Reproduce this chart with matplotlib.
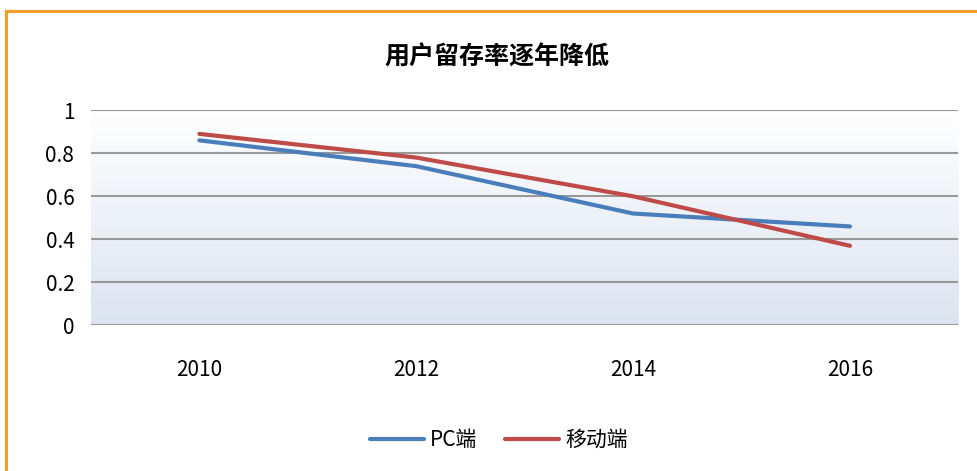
import matplotlib.pyplot as plt
import numpy as np
from matplotlib.lines import Line2D

plt.rcParams['font.family'] = ['Noto Sans CJK SC', 'DejaVu Sans']

years = ['2010', '2012', '2014', '2016']
pc = [0.86, 0.74, 0.52, 0.46]
mobile = [0.89, 0.78, 0.60, 0.37]
yticks = [0, 0.2, 0.4, 0.6, 0.8, 1]
ytick_labels = ['0', '0.2', '0.4', '0.6', '0.8', '1']

fig = plt.figure(figsize=(9.78, 4.71), dpi=100)
ax = fig.add_axes([0.093, 0.309, 0.887, 0.457])

x = np.arange(len(years))
ax.set_xlim(-0.5, 3.5)
ax.set_ylim(0, 1)

# gradient background, white at top to pale blue at bottom
grad = np.linspace(0, 1, 256).reshape(-1, 1)
top = np.array([1.0, 1.0, 1.0])
bottom = np.array([0xdc, 0xe4, 0xf1]) / 255
img = top + (bottom - top) * grad[..., None]
ax.imshow(img, extent=(-0.5, 3.5, 0, 1), aspect='auto', origin='upper', zorder=0)

for yv in yticks:
    ax.axhline(yv, color='#999999', lw=1.5, zorder=1)

ax.plot(x, pc, color='#4a7ebb', lw=3, label='PC端', zorder=3, solid_capstyle='round')
ax.plot(x, mobile, color='#be4b48', lw=3, label='移动端', zorder=3, solid_capstyle='round')

ax.set_xticks(x)
ax.set_xticklabels(years, fontsize=15)
ax.set_yticks(yticks)
ax.set_yticklabels(ytick_labels, fontsize=15)
ax.tick_params(length=0, pad=12)
ax.tick_params(axis='x', pad=24)
for s in ax.spines.values():
    s.set_visible(False)

fig.text(0.508, 0.878, '用户留存率逐年降低', ha='center', va='center', fontsize=18, fontweight='bold')

fig.legend(loc='center', bbox_to_anchor=(0.51, 0.066), ncol=2, frameon=False,
           fontsize=15, handlelength=2.6, columnspacing=1.3, handletextpad=0.3)

# orange chart frame (left and top edges visible)
fig.add_artist(Line2D([0.0066, 0.0066], [0, 0.977], color='#f5a02a', lw=2.2))
fig.add_artist(Line2D([0.0066, 1.0], [0.977, 0.977], color='#f5a02a', lw=2.2))

fig.savefig('out.png', dpi=100)
